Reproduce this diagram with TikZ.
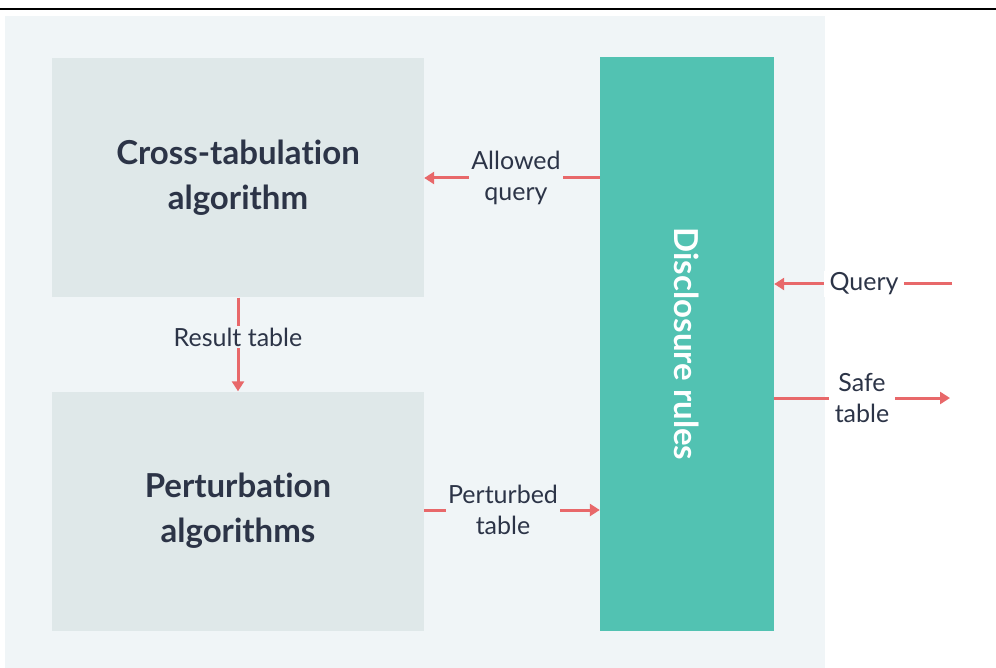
\documentclass[tikz,border=0pt]{standalone}
\usepackage{fontspec}
\setmainfont{Lato}[Ligatures={NoCommon}]
\usetikzlibrary{arrows.meta}
\definecolor{panel}{HTML}{F0F5F7}
\definecolor{boxc}{HTML}{DFE8E9}
\definecolor{teal}{HTML}{52C2B2}
\definecolor{arrc}{HTML}{E8686A}
\definecolor{txt}{HTML}{2C3447}
\begin{document}
\begin{tikzpicture}[x=1pt,y=-1pt,
  algbox/.style={fill=boxc, inner sep=0pt, minimum width=372pt, minimum height=239pt, align=center, text=txt, font=\fontsize{33}{45}\selectfont\bfseries},
  rulebar/.style={fill=teal, inner sep=0pt, minimum width=174pt, minimum height=574pt},
  lbl/.style={align=center, text=txt, inner sep=2pt, font=\fontsize{25}{31}\selectfont},
  arr/.style={draw=arrc, line width=3pt, -{Triangle[length=10pt,width=12pt]}}]
\useasboundingbox (0,0) rectangle (996,668);
\fill[white] (0,0) rectangle (996,668);
\draw[line width=2pt] (0,9.5) -- (996,9.5);
\fill[panel] (5,16) rectangle (825,668);
\node[algbox] (ct) at (238,178) {Cross-tabula\kern0pt tion\\algorithm};
\node[algbox] (pa) at (238,511) {Perturba\kern0pt tion\\algorithms};
\node[rulebar] (dr) at (687,344) {};
\node[rotate=-90, text=white, font=\fontsize{33}{40}\selectfont\bfseries] (drl) at (dr.center) {Disclosure rules};
\coordinate (qin) at (952,284);
\coordinate (sout) at (950,398);
% Allowed query
\draw[arr] (dr.west |- 0,178) -- (ct.east |- 0,178);
\node[lbl, fill=panel] (aq) at (516,178) {Allowed\\query};
% Result table
\draw[arr] (ct.south) -- (pa.north);
\node[lbl, fill=panel] (rt) at (238,337) {Result table};
% Perturbed table
\draw[arr] (pa.east |- 0,510) -- (dr.west |- 0,510);
\node[lbl, fill=panel] (pt) at (503,510) {Perturbed\\table};
% Query
\draw[arr] (qin) -- (dr.east |- qin);
\node[lbl, fill=white, inner xsep=6pt] (q) at (864,284) {Query};
% Safe table
\draw[arr] (dr.east |- sout) -- (sout);
\node[lbl, fill=white, inner xsep=6pt] (st) at (862,398) {Safe\\table};
\end{tikzpicture}
\end{document}
